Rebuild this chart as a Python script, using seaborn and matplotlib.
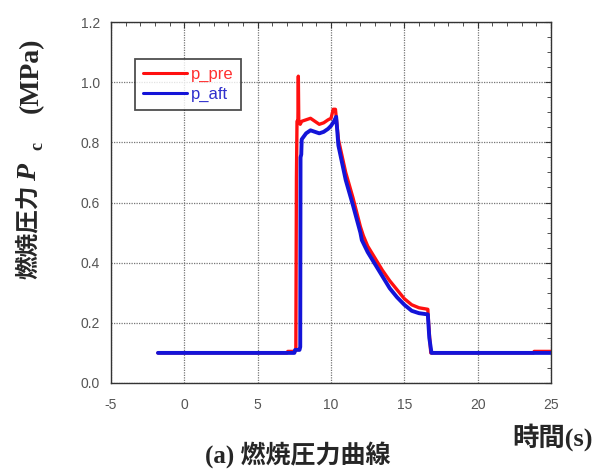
import matplotlib
matplotlib.use("Agg")
import matplotlib.pyplot as plt
import seaborn as sns
from matplotlib.ticker import MultipleLocator

# ===== DONNEES =====
t_pre = [-1.8, 7.0, 7.05, 7.55, 7.6, 7.64, 7.68, 7.74, 7.77, 7.8, 7.9, 8.0, 8.3,
         8.6, 8.9, 9.2, 9.5, 9.8, 10.0, 10.15, 10.3, 10.5, 11.0, 11.5, 12.0,
         12.2, 12.5, 13.0, 13.5, 14.0, 14.5, 15.0, 15.5, 16.0, 16.6, 16.65,
         16.8, 16.9, 23.8, 23.85, 25.0]
p_pre = [0.100, 0.100, 0.105, 0.105, 0.11, 0.68, 0.87, 0.87, 1.02, 0.87, 0.86,
         0.87, 0.875, 0.88, 0.87, 0.86, 0.865, 0.875, 0.88, 0.91, 0.91, 0.81,
         0.70, 0.615, 0.52, 0.49, 0.455, 0.415, 0.375, 0.34, 0.31, 0.28, 0.26,
         0.25, 0.245, 0.20, 0.10, 0.10, 0.10, 0.105, 0.105]

t_aft = [-1.8, 7.5, 7.55, 7.85, 7.9, 7.92, 7.97, 8.0, 8.3, 8.6, 8.9, 9.2, 9.5,
         9.8, 10.0, 10.2, 10.35, 10.5, 11.0, 11.5, 12.0, 12.1, 12.5, 13.0,
         13.5, 14.0, 14.5, 15.0, 15.5, 16.0, 16.6, 16.7, 16.85, 25.0]
p_aft = [0.1, 0.1, 0.11, 0.11, 0.12, 0.75, 0.76, 0.81, 0.83, 0.84, 0.835, 0.83,
         0.835, 0.845, 0.855, 0.87, 0.885, 0.79, 0.675, 0.59, 0.5, 0.475,
         0.435, 0.395, 0.355, 0.315, 0.285, 0.26, 0.24, 0.232, 0.228, 0.15,
         0.1, 0.1]

x_ticks = [-5, 0, 5, 10, 15, 20, 25]
y_ticks = [0.0, 0.2, 0.4, 0.6, 0.8, 1.0, 1.2]

RED = "#ff1010"
BLUE = "#1414d8"
JP = ["Liberation Serif", "Noto Sans CJK JP"]

# ===== STYLE =====
sns.set_style("white")
plt.rcParams["font.family"] = ["Liberation Sans", "Noto Sans CJK JP"]
plt.rcParams["axes.unicode_minus"] = False

fig = plt.figure(figsize=(5.97, 4.69), dpi=100)
ax = fig.add_axes([0.186, 0.1834, 0.737, 0.7696])

sns.lineplot(x=t_pre, y=p_pre, sort=False, estimator=None, color=RED,
             linewidth=2.4, label="p_pre", ax=ax)
sns.lineplot(x=t_aft, y=p_aft, sort=False, estimator=None, color=BLUE,
             linewidth=2.8, label="p_aft", ax=ax)

ax.set_xlim(-5, 25)
ax.set_ylim(0, 1.2)
ax.set_xticks(x_ticks)
ax.set_yticks(y_ticks)
ax.set_yticklabels([f"{v:.1f}" for v in y_ticks])
ax.xaxis.set_minor_locator(MultipleLocator(1))
ax.yaxis.set_minor_locator(MultipleLocator(0.05))
ax.tick_params(which="both", direction="in", top=True, right=True,
               labelsize=10, labelcolor="#555555", color="#333333")
ax.tick_params(which="major", length=4)
ax.tick_params(which="minor", length=3)
ax.tick_params(axis="x", which="major", pad=11)
ax.tick_params(axis="y", which="major", pad=8)
ax.grid(True, which="major", linestyle=(0, (1, 1)), color="#777777", linewidth=0.9)
for s in ax.spines.values():
    s.set_color("#333333")
    s.set_linewidth(1.0)
ax.set_xlabel("")
ax.set_ylabel("")

leg = ax.legend(loc="upper left", bbox_to_anchor=(0.0545, 0.897), borderaxespad=0,
                fancybox=False, frameon=True, edgecolor="#222222",
                handlelength=2.65, handletextpad=0.25, fontsize=12,
                borderpad=0.45, labelspacing=0.3)
leg.get_frame().set_linewidth(1.3)
for line in leg.get_lines():
    line.set_linewidth(2.2)
for txt, c in zip(leg.get_texts(), ["#ff3030", "#3030cc"]):
    txt.set_color(c)

# ===== TEXTES =====
# label vertical, monte par morceaux (CJK + P_c + unite)
fig.text(0.047, 0.505, "燃焼圧力", rotation=90, ha="center", va="center",
         fontsize=17, fontweight="bold", family="Noto Sans CJK JP")
fig.text(0.050, 0.633, "P", rotation=90, ha="center", va="center",
         fontsize=20, fontweight="bold", fontstyle="italic", family="Liberation Serif")
fig.text(0.063, 0.688, "c", rotation=90, ha="center", va="center",
         fontsize=13, fontweight="bold", family="Liberation Serif")
fig.text(0.052, 0.840, "(MPa)", rotation=90, ha="center", va="center",
         fontsize=20, fontweight="bold", family="Liberation Serif")

fig.text(0.993, 0.068, "時間(s)", ha="right", va="center", fontsize=19,
         fontweight="bold", family=JP)
fig.text(0.498, 0.03, "(a) 燃焼圧力曲線", ha="center", va="center", fontsize=18,
         fontweight="bold", family=JP)

fig.savefig("out.png", dpi=100)
